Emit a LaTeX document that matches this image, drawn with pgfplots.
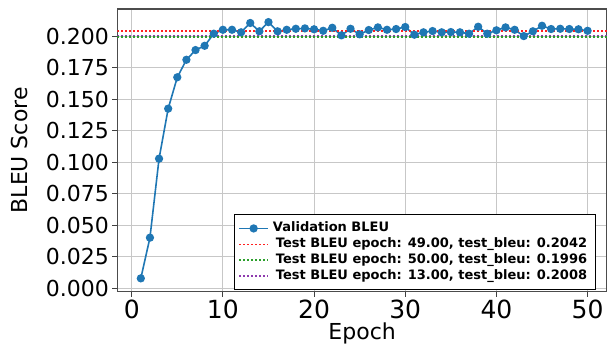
\documentclass[border=0pt]{standalone}
\usepackage{pgfplots}
\pgfplotsset{compat=1.18}
\usepackage{fontspec}
\setmainfont{DejaVu Sans}
\definecolor{tabblue}{HTML}{1F77B4}
\definecolor{tred}{HTML}{FF2020}
\definecolor{tgreen}{HTML}{2CA02C}
\definecolor{tpurple}{HTML}{8E3AAE}
\pgfplotstableread{
x y
1 0.0079
2 0.0402
3 0.1029
4 0.1426
5 0.1675
6 0.1814
7 0.1891
8 0.1925
9 0.2021
10 0.2052
11 0.2052
12 0.2032
13 0.2106
14 0.2040
15 0.2113
16 0.2040
17 0.2052
18 0.2060
19 0.2063
20 0.2056
21 0.2044
22 0.2068
23 0.2008
24 0.2060
25 0.2016
26 0.2050
27 0.2071
28 0.2052
29 0.2058
30 0.2074
31 0.2013
32 0.2032
33 0.2042
34 0.2032
35 0.2034
36 0.2032
37 0.2021
38 0.2076
39 0.2021
40 0.2048
41 0.2071
42 0.2052
43 0.2002
44 0.2040
45 0.2084
46 0.2058
47 0.2060
48 0.2058
49 0.2056
50 0.2044
}\valbleu
\begin{document}
\begin{tikzpicture}
\begin{axis}[
  scale only axis, width=244.85pt, height=141.35pt,
  xmin=-1.58, xmax=52.13, ymin=-0.0027, ymax=0.2217,
  xtick={0,10,20,30,40,50},
  ytick={0,0.025,0.05,0.075,0.1,0.125,0.15,0.175,0.2},
  /pgf/number format/assume math mode=true,
  scaled y ticks=false,
  yticklabel style={/pgf/number format/fixed, /pgf/number format/fixed zerofill, /pgf/number format/precision=3, font=\fontsize{11}{13}\selectfont, inner sep=1.5pt},
  xticklabel style={font=\fontsize{12.5}{14}\selectfont, inner sep=1.5pt},
  grid=major, major grid style={color=black!22, line width=0.5pt},
  tick align=outside, major tick length=2.5pt, tick style={black!75, line width=0.5pt},
  xtick pos=bottom, ytick pos=left,
  axis line style={black!70, line width=0.6pt},
  xlabel={Epoch}, ylabel={BLEU Score},
  xlabel style={font=\fontsize{11}{13}\selectfont, at={(axis description cs:0.5,-0.146)}, anchor=center},
  ylabel style={font=\fontsize{11}{13}\selectfont, at={(axis description cs:-0.2,0.5)}, anchor=center},
  legend image code/.code={\draw[mark repeat=2,mark phase=2,#1] plot coordinates {(0pt,0pt)(7.25pt,0pt)(14.5pt,0pt)};},
  legend cell align=left,
  legend style={at={(0.238,0.006)}, anchor=south west, draw=black, line width=0.5pt,
    font=\fontsize{6.5}{7.5}\selectfont\bfseries, inner xsep=2pt, inner ysep=1.5pt,
    row sep=-2.5pt, fill=white},
]
\addplot[tabblue, line width=0.8pt, mark=*, mark size=1.65pt] table[x=x,y=y]{\valbleu};
\addlegendentry{Validation BLEU}
\addplot[tred, line width=0.8pt, dash pattern=on 0.9pt off 1.1pt] coordinates {(-1.58,0.2042) (52.13,0.2042)};
\addlegendentry{\hspace{1.5pt}Test BLEU epoch: 49.00, test\_bleu: 0.2042\hspace{30pt}}
\addplot[tgreen, line width=0.8pt, dash pattern=on 0.9pt off 1.1pt] coordinates {(-1.58,0.1996) (52.13,0.1996)};
\addlegendentry{\hspace{1.5pt}Test BLEU epoch: 50.00, test\_bleu: 0.1996}
\addplot[tpurple, line width=0.8pt, dash pattern=on 0.9pt off 1.1pt] coordinates {(-1.58,0.2008) (52.13,0.2008)};
\addlegendentry{\hspace{1.5pt}Test BLEU epoch: 13.00, test\_bleu: 0.2008}
\end{axis}
\pgfresetboundingbox
\path[use as bounding box] ([xshift=-58.65pt,yshift=-27.65pt]current axis.south west) rectangle ([yshift=4.5pt]current axis.north east);
\end{tikzpicture}
\end{document}
